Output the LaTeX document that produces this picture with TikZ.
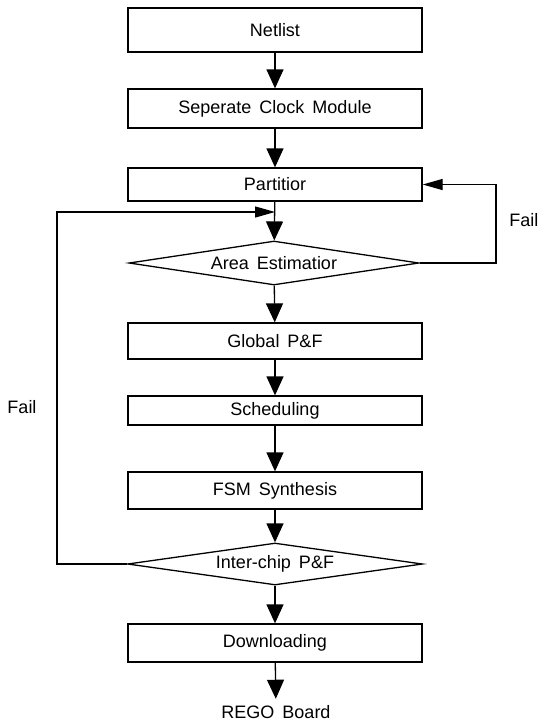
\documentclass[tikz,border=0pt]{standalone}
\usepackage{fontspec}
\setmainfont{Liberation Sans}
\usetikzlibrary{shapes.geometric,arrows.meta}
\begin{document}
\begin{tikzpicture}[x=1pt,y=-1pt,
  font=\fontsize{18}{21}\selectfont,
  line width=1.3pt,
  stepbox/.style={draw, rectangle, minimum width=294pt, inner sep=0pt},
  decision/.style={draw, diamond, aspect=6.6, inner sep=0pt},
  flow/.style={-{Triangle[length=19pt,width=17pt]}},
  back/.style={-{Triangle[length=20pt,width=11pt]}},
  lbl/.style={inner sep=0pt}
]
\useasboundingbox (0,0) rectangle (541,724);
\node[stepbox, minimum height=44pt] (net) at (275,30) {Netlist};
\node[stepbox, minimum height=39pt] (sep) at (275,108.5) {Seperate\ \,Clock\ \,Module};
\node[stepbox, minimum height=33pt] (par) at (275,184.5) {Partitior};
\node[decision, minimum width=290pt, minimum height=44pt] (area) at (274,263) {Area\ \,Estimatior};
\node[stepbox, minimum height=36pt] (glob) at (275,341) {Global\ \,P\&F};
\node[stepbox, minimum height=29pt] (sch) at (275,410.5) {Scheduling};
\node[stepbox, minimum height=37pt] (fsm) at (275,490.5) {FSM\ \,Synthesis};
\node[decision, minimum width=295pt, minimum height=42pt] (inter) at (275,564) {Inter-chip\ \,P\&F};
\node[stepbox, minimum height=38pt] (down) at (275,643) {Downloading};
\node[lbl] (rego) at (276,712) {REGO\ \,Board};
\node[lbl, anchor=east] (failr) at (539,220) {Fail};
\node[lbl] (faill) at (22,407) {Fail};
\coordinate (rc) at (496,263);
\coordinate (lc) at (57,564);
\coordinate (j) at (275,212);

\draw[flow] (net) -- (sep);
\draw[flow] (sep) -- (par);
\draw[flow] (par) -- (area);
\draw[flow] (area) -- (glob);
\draw[flow] (glob) -- (sch);
\draw[flow] (sch) -- (fsm);
\draw[flow] (fsm) -- (inter);
\draw[flow] (inter) -- (down);
\draw[flow, shorten >=6pt] (down) -- (rego);
\draw[back] (area.east) -- (rc) |- (par.east);
\draw[back] (inter.west) -- (lc) |- (j);
\end{tikzpicture}
\end{document}
